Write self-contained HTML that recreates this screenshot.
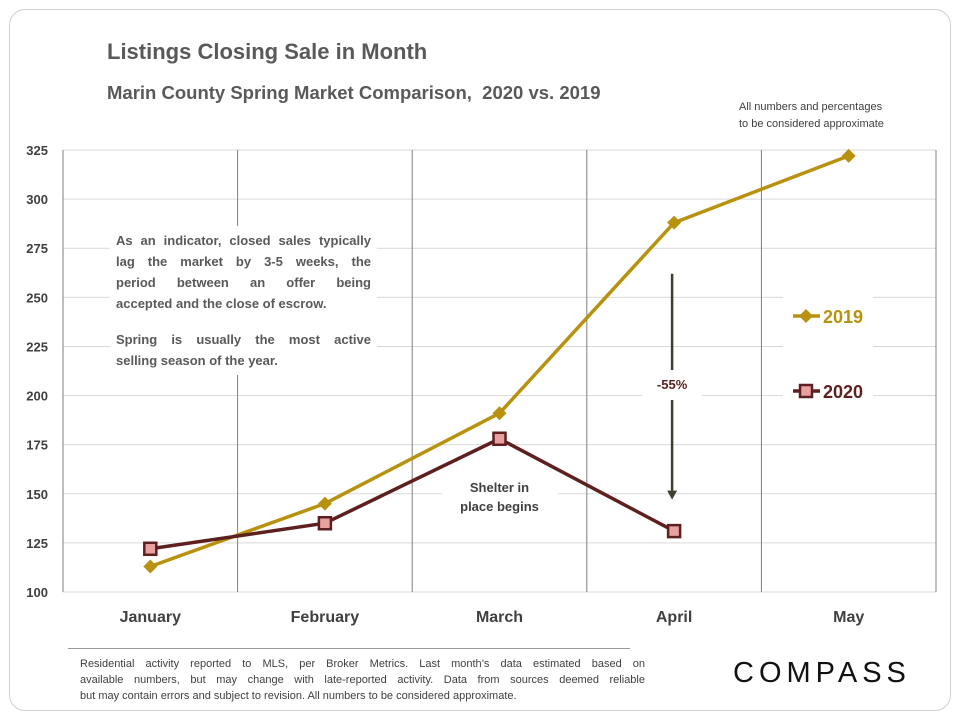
<!DOCTYPE html>
<html><head><meta charset="utf-8"><style>
body{margin:0;background:#fff;font-family:"Liberation Sans",Arial,sans-serif}
#card{position:absolute;left:9px;top:9px;width:940px;height:700px;border:1.5px solid #d0d0d0;border-radius:16px}
.t{position:absolute;color:#595959;font-weight:bold}
.j{text-align:justify;text-align-last:justify;white-space:nowrap}
.l{text-align:left;white-space:nowrap}
</style></head><body>
<div id="card"></div>
<div class="t" style="left:107px;top:39px;font-size:22px">Listings Closing Sale in Month</div>
<div class="t" style="left:107px;top:82px;font-size:18.5px">Marin County Spring Market Comparison,&nbsp; 2020 vs. 2019</div>
<div class="t" style="left:739px;top:99px;font-size:11px;font-weight:normal;color:#404040;line-height:17px">All numbers and percentages<br>to be considered approximate</div>
<svg id="chart" width="960" height="720" style="position:absolute;left:0;top:0"></svg>
<div class="t" style="left:110px;top:226px;width:255px;background:#fff;padding:4px 6px;font-size:13px;line-height:21px;font-weight:bold;color:#595959">
<div class="j">As an indicator, closed sales typically</div>
<div class="j">lag the market by 3-5 weeks, the</div>
<div class="j">period between an offer being</div>
<div class="l">accepted and the close of escrow.</div>
<div style="height:15px"></div>
<div class="j">Spring is usually the most active</div>
<div class="l">selling season of the year.</div></div>
<div style="position:absolute;left:68px;top:648px;width:562px;height:1px;background:#999"></div>
<div class="t" style="left:80px;top:656px;width:565px;font-size:11px;line-height:16px;color:#404040;font-weight:normal">
<div class="j">Residential activity reported to MLS, per Broker Metrics. Last month’s data estimated based on</div>
<div class="j">available numbers, but may change with late-reported activity. Data from sources deemed reliable</div>
<div class="l">but may contain errors and subject to revision. All numbers to be considered approximate.</div></div>
<div style="position:absolute;left:733px;top:657px;font-size:29px;letter-spacing:5px;color:#111;font-family:'Liberation Sans',sans-serif">COMPASS</div>
<script>
const months=["January","February","March","April","May"];
const s2019=[113,145,191,288,322];
const s2020=[122,135,178,131];
const yTicks=[100,125,150,175,200,225,250,275,300,325];
const NS="http://www.w3.org/2000/svg";
const svg=document.getElementById('chart');
const L=63,R=936,T=150,B=592,ymin=100,ymax=325;
const bw=(R-L)/months.length;
const x=i=>L+bw*(i+0.5);
const y=v=>B-(v-ymin)/(ymax-ymin)*(B-T);
function mk(tag,at){const e=document.createElementNS(NS,tag);for(const k in at)e.setAttribute(k,at[k]);svg.appendChild(e);return e;}
yTicks.forEach(v=>{
 const g=mk('line',{x1:L,x2:R,y1:y(v),y2:y(v),stroke:'#d9d9d9','stroke-width':1});
 
 
 const t=mk('text',{x:48,y:y(v)+5,'text-anchor':'end','font-size':13,'font-weight':'bold',fill:'#404040'});
 t.textContent=v;
 
 
});
for(let i=0;i<=months.length;i++){
 const l=mk('line',{x1:L+bw*i,x2:L+bw*i,y1:T,y2:B,stroke:'#7f7f7f','stroke-width':1});
 
 
}
months.forEach((m,i)=>{
 const t=mk('text',{x:x(i),y:622,'text-anchor':'middle','font-size':16,'font-weight':'bold',fill:'#404040'});
 t.textContent=m;
 
 
});
const ay1=y(262),ay2=y(147);
const ar=mk('line',{x1:x(3)-2,x2:x(3)-2,y1:ay1,y2:ay2-8,stroke:'#3f3f2f','stroke-width':2.5});


const ah=mk('polygon',{points:`${x(3)-7},${ay2-9} ${x(3)+3},${ay2-9} ${x(3)-2},${ay2}`,fill:'#3f3f2f'});


const lb=mk('rect',{x:x(3)-32,y:370,width:60,height:30,fill:'#fff'});


const pt=mk('text',{x:x(3)-2,y:389,'text-anchor':'middle','font-size':13,'font-weight':'bold',fill:'#5a1e1e'});
pt.textContent='-55%';


const sb=mk('rect',{x:442,y:476,width:116,height:42,fill:'#fff'});


['Shelter in','place begins'].forEach((s,k)=>{
 const t=mk('text',{x:x(2),y:492+k*19,'text-anchor':'middle','font-size':13,'font-weight':'bold',fill:'#404040'});
 t.textContent=s;
 
 
});
const lg=mk('rect',{x:783,y:285,width:90,height:135,fill:'#fff'});


const p19=mk('polyline',{points:s2019.map((v,i)=>x(i)+','+y(v)).join(' '),fill:'none',stroke:'#b8920f','stroke-width':3.5});


const p20=mk('polyline',{points:s2020.map((v,i)=>x(i)+','+y(v)).join(' '),fill:'none',stroke:'#5e1f1f','stroke-width':3.5});


function dia(cx,cy){return mk('polygon',{points:`${cx},${cy-7} ${cx+7},${cy} ${cx},${cy+7} ${cx-7},${cy}`,fill:'#b8920f'});}
function sq(cx,cy){return mk('rect',{x:cx-6,y:cy-6,width:12,height:12,fill:'#e8a0a0',stroke:'#5e1f1f','stroke-width':2.5});}
s2019.forEach((v,i)=>{const d=dia(x(i),y(v));
 
 });
s2020.forEach((v,i)=>{const d=sq(x(i),y(v));
 
 });
[['2019','#b8920f',316,dia],['2020','#5e1f1f',391,sq]].forEach(([n,c,yy,f])=>{
 const l=mk('line',{x1:793,x2:820,y1:yy,y2:yy,stroke:c,'stroke-width':3.5});
 
 
 const m=f(806,yy);
 
 
 const t=mk('text',{x:823,y:yy+7,'font-size':18,'font-weight':'bold',fill:c});
 t.textContent=n;
 
 
});
</script>
</body></html>
